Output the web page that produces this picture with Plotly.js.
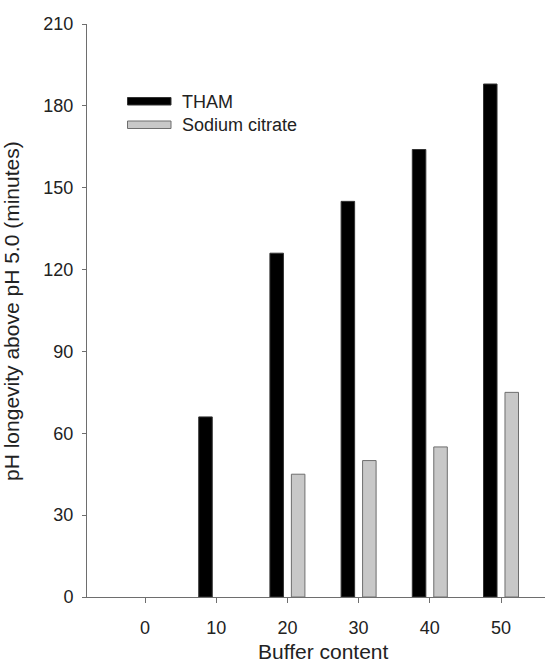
<!DOCTYPE html>
<html>
<head>
<meta charset="utf-8">
<script src="https://cdn.plot.ly/plotly-3.0.1.min.js"></script>
<style>html,body{margin:0;padding:0;background:#fff;}#chart{width:547px;height:663px;}</style>
</head>
<body>
<div id="chart"></div>
<script>
const categories = ["0", "10", "20", "30", "40", "50"];
const thamValues = [0, 66, 126, 145, 164, 188];
const citrateValues = [0, 0, 45, 50, 55, 75];
const yTicks = [0, 30, 60, 90, 120, 150, 180, 210];
const seriesNames = ["THAM", "Sodium citrate"];

const FONT = "Liberation Sans, Arial, sans-serif";
const lineW = v => v.map(d => (d > 0 ? 1 : 0));

const traces = [
  {type: "bar", x: categories, y: thamValues, name: seriesNames[0],
   marker: {color: "#000000", line: {color: "#333333", width: lineW(thamValues)}}, showlegend: false},
  {type: "bar", x: categories, y: citrateValues, name: seriesNames[1],
   marker: {color: "#c8c8c8", line: {color: "#6e6e6e", width: lineW(citrateValues)}}, showlegend: false}
];

const W = 547, H = 663, L = 87, R = 2, T = 24, B = 66;
const pw = W - L - R, ph = H - T - B;
function px(x) { return (x - L) / pw; }
function py(y) { return (H - B - y) / ph; }

const layout = {
  width: W, height: H,
  margin: {l: L, r: R, t: T, b: B, pad: 0},
  paper_bgcolor: "#fff", plot_bgcolor: "#fff",
  barmode: "group", bargap: 0.397, bargroupgap: 0.37,
  font: {family: FONT, color: "#222", size: 18},
  xaxis: {
    type: "category", range: [-0.815, 5.618],
    showline: true, linecolor: "#6e6e6e", linewidth: 1,
    ticks: "outside", ticklen: 5, tickcolor: "#6e6e6e", tickwidth: 1,
    ticklabelstandoff: 9,
    showgrid: false, zeroline: false,
    tickfont: {family: FONT, size: 18, color: "#222"}
  },
  yaxis: {
    range: [0, 210], tickvals: yTicks, ticktext: yTicks.map(String),
    showline: true, linecolor: "#6e6e6e", linewidth: 1,
    ticks: "outside", ticklen: 4, tickcolor: "#6e6e6e", tickwidth: 1,
    ticklabelstandoff: 5,
    showgrid: false, zeroline: false,
    tickfont: {family: FONT, size: 18, color: "#222"}
  },
  shapes: [
    {type: "rect", xref: "paper", yref: "paper", x0: px(127.5), x1: px(171), y0: py(105), y1: py(97.5),
     fillcolor: "#000", line: {color: "#333", width: 1}},
    {type: "rect", xref: "paper", yref: "paper", x0: px(127.5), x1: px(171), y0: py(128.5), y1: py(121),
     fillcolor: "#c8c8c8", line: {color: "#6e6e6e", width: 1}}
  ],
  annotations: [
    {xref: "paper", yref: "paper", x: px(180), y: py(101.5), xanchor: "left", yanchor: "middle",
     text: seriesNames[0], showarrow: false, font: {family: FONT, size: 18, color: "#222"}},
    {xref: "paper", yref: "paper", x: px(180), y: py(124.5), xanchor: "left", yanchor: "middle",
     text: seriesNames[1], showarrow: false, font: {family: FONT, size: 18, color: "#222"}},
    {xref: "x", yref: "paper", x: 2.5, y: py(651), xanchor: "center", yanchor: "middle",
     text: "Buffer content", showarrow: false, font: {family: FONT, size: 21, color: "#222"}},
    {xref: "paper", yref: "paper", x: px(11), y: py(311), xanchor: "center", yanchor: "middle", textangle: -90,
     text: "pH longevity above pH 5.0 (minutes)", showarrow: false, font: {family: FONT, size: 21, color: "#222"}}
  ]
};

Plotly.newPlot("chart", traces, layout, {displayModeBar: false, staticPlot: true});
</script>
</body>
</html>
